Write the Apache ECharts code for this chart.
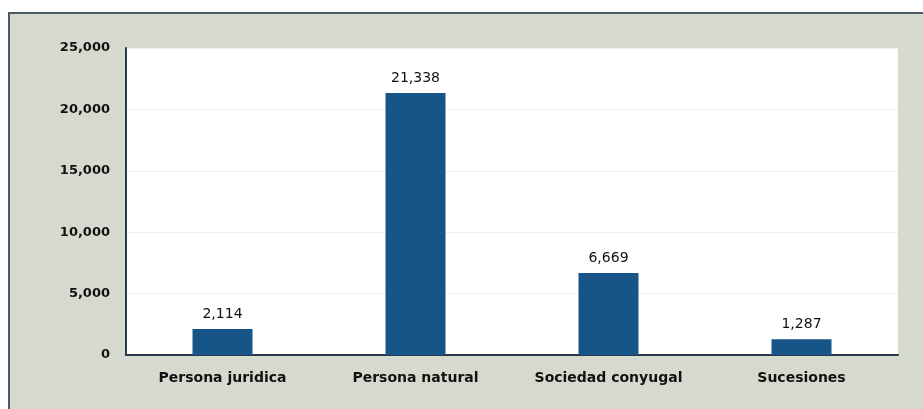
<!DOCTYPE html>
<html><head><meta charset="utf-8">
<script src="https://cdn.jsdelivr.net/npm/echarts@6/dist/echarts.min.js"></script>
<style>html,body{margin:0;padding:0;background:#fff}#c{width:923px;height:409px}</style>
</head><body><div id="c"></div>
<script>
const categories = ['Persona juridica', 'Persona natural', 'Sociedad conyugal', 'Sucesiones'];
const values = [2114, 21338, 6669, 1287];
const yTicks = [0, 5000, 10000, 15000, 20000, 25000];

const chart = echarts.init(document.getElementById('c'), null, {renderer: 'canvas'});
const fmt = v => v.toLocaleString('en-US');
chart.setOption({
  animation: false,
  backgroundColor: '#ffffff',
  textStyle: {fontFamily: 'DejaVu Sans, Arial, sans-serif'},
  graphic: [
    {type: 'rect', z: -10, silent: true,
     shape: {x: 9, y: 13, width: 930, height: 410},
     style: {fill: '#d6d9ce', stroke: '#4a5a66', lineWidth: 2}}
  ],
  grid: {left: 126, right: 25, top: 48, bottom: 54, show: true, backgroundColor: '#ffffff', borderWidth: 0},
  xAxis: {
    type: 'category', data: categories,
    axisLine: {lineStyle: {color: '#26384a', width: 2}},
    axisTick: {show: false},
    axisLabel: {color: '#111', fontWeight: 'bold', fontSize: 14, margin: 16, fontFamily: 'DejaVu Sans'}
  },
  yAxis: {
    type: 'value', min: 0, max: 25000, interval: 5000,
    axisLine: {show: true, lineStyle: {color: '#26384a', width: 2}},
    axisTick: {show: false},
    splitLine: {show: true, lineStyle: {color: '#eef0ea', width: 1}},
    axisLabel: {color: '#111', fontWeight: 'bold', fontSize: 13, margin: 16, fontFamily: 'DejaVu Sans',
      formatter: v => yTicks.includes(v) ? fmt(v) : ''}
  },
  series: [{
    type: 'bar', data: values, barWidth: 60,
    itemStyle: {color: '#175589'},
    label: {show: true, position: 'top', distance: 8, color: '#111', fontSize: 14, fontFamily: 'DejaVu Sans',
      formatter: p => fmt(p.value)}
  }]
});
</script></body></html>
